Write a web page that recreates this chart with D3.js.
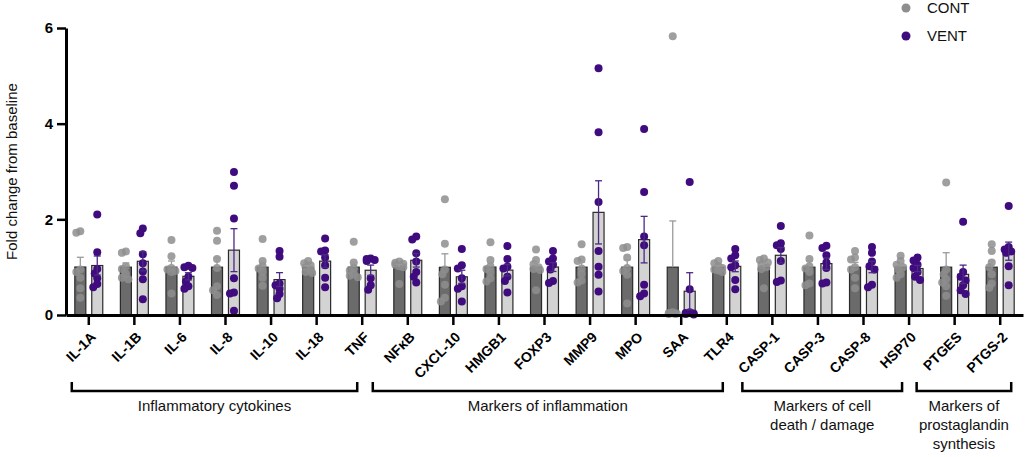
<!DOCTYPE html>
<html>
<head>
<meta charset="utf-8">
<script src="https://cdn.jsdelivr.net/npm/d3@7"></script>
<style>
  body { margin: 0; background: #fff; }
  svg { display: block; font-family: "Liberation Sans", Arial, sans-serif; }
</style>
</head>
<body>
<div id="chart"></div>
<script>
// genes on the x axis
var genes = ["IL-1A", "IL-1B", "IL-6", "IL-8", "IL-10", "IL-18", "TNF",
  "NFκB", "CXCL-10", "HMGB1", "FOXP3", "MMP9", "MPO", "SAA", "TLR4",
  "CASP-1", "CASP-3", "CASP-8", "HSP70", "PTGES", "PTGS-2"];

var seriesNames = ["CONT", "VENT"];

// individual animals, fold change from baseline
var contValues = [
  [1.72, 1.75, 0.90, 0.78, 0.56, 0.36, 0.95],
  [1.33, 1.30, 1.02, 0.96, 0.86, 0.78, 0.75],
  [1.57, 1.23, 0.98, 0.95, 0.92, 0.45, 0.90],
  [1.76, 1.55, 1.17, 0.60, 0.52, 0.42, 0.98],
  [1.59, 1.13, 1.02, 0.97, 0.90, 0.78, 0.61],
  [1.13, 1.08, 1.04, 1.00, 0.94, 0.90, 0.88],
  [1.53, 1.10, 0.98, 0.93, 0.85, 0.82, 0.79],
  [1.12, 1.09, 1.07, 1.05, 1.02, 1.00, 0.65],
  [2.42, 1.49, 0.95, 0.85, 0.63, 0.36, 0.28],
  [1.52, 1.15, 1.02, 0.96, 0.90, 0.77, 0.70],
  [1.37, 1.15, 1.06, 1.00, 0.96, 0.94, 0.52],
  [1.48, 1.16, 1.13, 0.97, 0.86, 0.72, 0.68],
  [1.42, 1.40, 1.20, 0.98, 0.92, 0.84, 0.24],
  [5.83, 0.06, 0.04, 0.03, 0.02, 0.02],
  [1.13, 1.08, 1.02, 0.98, 0.95, 0.93, 0.90],
  [1.18, 1.15, 1.10, 1.05, 1.00, 0.96, 0.56],
  [1.66, 1.17, 1.02, 0.97, 0.90, 0.66, 0.62],
  [1.34, 1.20, 1.16, 1.00, 0.95, 0.78, 0.56],
  [1.24, 1.13, 1.05, 1.00, 0.95, 0.85, 0.78],
  [2.77, 0.85, 0.75, 0.68, 0.60, 0.40, 0.95],
  [1.48, 1.34, 1.10, 1.00, 0.85, 0.66, 0.57]
];

var ventValues = [
  [2.10, 1.31, 0.96, 0.87, 0.77, 0.65, 0.58],
  [1.81, 1.71, 1.27, 1.08, 0.91, 0.75, 0.33],
  [1.03, 1.00, 0.98, 0.80, 0.70, 0.60, 0.55],
  [2.99, 2.70, 2.02, 0.77, 0.47, 0.45, 0.09],
  [1.34, 1.22, 0.66, 0.62, 0.55, 0.44, 0.35],
  [1.60, 1.35, 1.33, 1.20, 1.04, 0.78, 0.58],
  [1.18, 1.17, 1.15, 1.13, 0.77, 0.62, 0.53],
  [1.64, 1.58, 1.29, 1.12, 0.90, 0.80, 0.68],
  [1.38, 1.04, 0.97, 0.77, 0.60, 0.55, 0.28],
  [1.44, 1.17, 1.01, 0.97, 0.80, 0.71, 0.47],
  [1.34, 1.18, 1.12, 1.05, 0.95, 0.71, 0.67],
  [5.16, 3.82, 2.36, 1.34, 1.01, 0.84, 0.49],
  [3.89, 2.57, 1.64, 1.46, 0.63, 0.45, 0.39],
  [2.78, 0.54, 0.06, 0.04, 0.03, 0.02, 0.01],
  [1.38, 1.25, 1.18, 1.04, 1.00, 0.73, 0.54],
  [1.86, 1.50, 1.46, 1.38, 1.13, 0.72, 0.69],
  [1.45, 1.40, 1.25, 1.10, 0.98, 0.68, 0.66],
  [1.42, 1.30, 1.12, 1.02, 0.95, 0.63, 0.58],
  [1.20, 1.14, 1.05, 0.98, 0.90, 0.80, 0.73],
  [1.95, 0.90, 0.80, 0.72, 0.62, 0.52, 0.44],
  [2.28, 1.42, 1.37, 1.33, 1.30, 1.02, 0.62]
];

var yTicks = [0, 2, 4, 6];

// gene groups shown with brackets under the axis
var groupLabels = [
  ["Inflammatory cytokines"],
  ["Markers of inflammation"],
  ["Markers of cell", "death / damage"],
  ["Markers of", "prostaglandin", "synthesis"]
];
var groupFirst = ["IL-1A", "NFκB", "CASP-1", "PTGES"];
var groupLast = ["TNF", "TLR4", "HSP70", "PTGS-2"];

var colors = {
  CONT: { bar: "#6b6b6b", dot: "#8e8e8e", err: "#9a9a9a" },
  VENT: { bar: "#d3d3d3", dot: "#3f0b7e", err: "#4a2a82" }
};

var svgWidth = 1026, svgHeight = 457;
var margin = { top: 28, right: 3, bottom: 142, left: 66 };
var height = svgHeight - margin.top - margin.bottom;
var width = svgWidth - margin.left - margin.right;

var svg = d3.select("#chart")
  .append("svg")
  .attr("width", svgWidth)
  .attr("height", svgHeight);

var chart = svg.append("g")
  .attr("transform", `translate(${margin.left}, ${margin.top})`);

var x = d3.scaleBand()
  .domain(genes)
  .range([0, width]);

var x1 = d3.scaleBand()
  .domain(seriesNames)
  .range([0, x.bandwidth()])
  .paddingInner(0.35)
  .paddingOuter(0.52);

var y = d3.scaleLinear()
  .domain([0, 6])
  .range([height, 0]);

// summary stats per bar
var rows = [];
genes.forEach(function (g, i) {
  [contValues[i], ventValues[i]].forEach(function (vals, s) {
    var m = d3.mean(vals);
    var sem = d3.deviation(vals) / Math.sqrt(vals.length);
    rows.push({ gene: g, series: seriesNames[s], values: vals, mean: m, sem: sem });
  });
});

// spread overlapping dots sideways a little, like a scatter-dot plot
function spreadDots(row) {
  var r = 4;
  var placed = [];
  var cx = x(row.gene) + x1(row.series) + x1.bandwidth() / 2;
  var sorted = row.values.slice().sort(function (a, b) { return b - a; });
  sorted.forEach(function (v) {
    var py = y(v);
    var offsets = [0, -2.5, 2.5, -4, 4];
    var best = 0, bestScore = Infinity;
    offsets.forEach(function (o) {
      var score = 0;
      placed.forEach(function (p) {
        var d = Math.hypot(p.x - (cx + o), p.y - py);
        if (d < 1.3 * r) score += 1.3 * r - d;
      });
      if (score < bestScore - 0.3) { bestScore = score; best = o; }
    });
    placed.push({ x: cx + best, y: py, series: row.series });
  });
  return placed;
}

// bars
chart.append("g")
  .selectAll("rect")
  .data(rows)
  .enter().append("rect")
  .attr("x", function (d) { return x(d.gene) + x1(d.series); })
  .attr("y", function (d) { return y(d.mean); })
  .attr("width", x1.bandwidth())
  .attr("height", function (d) { return y(0) - y(d.mean); })
  .attr("fill", function (d) { return colors[d.series].bar; })
  .attr("stroke", "#2a2a2a")
  .attr("stroke-width", 1.2);

// dots
var dots = [];
rows.forEach(function (row) { dots = dots.concat(spreadDots(row)); });
chart.append("g")
  .selectAll("circle")
  .data(dots)
  .enter().append("circle")
  .attr("cx", function (d) { return d.x; })
  .attr("cy", function (d) { return d.y; })
  .attr("r", 4)
  .attr("fill", function (d) { return colors[d.series].dot; })
  .attr("fill-opacity", function (d) { return d.series === "CONT" ? 0.85 : 1; });

// error bars (mean ± SEM, CONT only upward)
var err = chart.append("g")
  .selectAll("g")
  .data(rows)
  .enter().append("g")
  .attr("stroke", function (d) { return colors[d.series].err; })
  .attr("stroke-width", 1.3);

err.append("line")
  .attr("x1", function (d) { return x(d.gene) + x1(d.series) + x1.bandwidth() / 2; })
  .attr("x2", function (d) { return x(d.gene) + x1(d.series) + x1.bandwidth() / 2; })
  .attr("y1", function (d) { return y(d.series === "CONT" ? d.mean : Math.max(0, d.mean - d.sem)); })
  .attr("y2", function (d) { return y(d.mean + d.sem); });

err.append("line")
  .attr("x1", function (d) { return x(d.gene) + x1(d.series) + x1.bandwidth() / 2 - 3.5; })
  .attr("x2", function (d) { return x(d.gene) + x1(d.series) + x1.bandwidth() / 2 + 3.5; })
  .attr("y1", function (d) { return y(d.mean + d.sem); })
  .attr("y2", function (d) { return y(d.mean + d.sem); });

err.filter(function (d) { return d.series === "VENT" && d.mean - d.sem > 0; })
  .append("line")
  .attr("x1", function (d) { return x(d.gene) + x1(d.series) + x1.bandwidth() / 2 - 3.5; })
  .attr("x2", function (d) { return x(d.gene) + x1(d.series) + x1.bandwidth() / 2 + 3.5; })
  .attr("y1", function (d) { return y(d.mean - d.sem); })
  .attr("y2", function (d) { return y(d.mean - d.sem); });

// Y axis
var yAxis = chart.append("g")
  .attr("class", "y-axis")
  .call(d3.axisLeft(y).tickValues(yTicks).tickFormat(d3.format("d"))
    .tickSize(9).tickSizeOuter(0).tickPadding(4));
yAxis.select(".domain").attr("stroke-width", 3).attr("stroke", "#000");
yAxis.selectAll(".tick line").attr("stroke-width", 2.5).attr("stroke", "#000");
yAxis.selectAll(".tick text")
  .attr("font-size", 15).attr("font-weight", "bold").attr("fill", "#000")
  .attr("font-family", "Liberation Sans, Arial, sans-serif");

// X axis
var xAxis = chart.append("g")
  .attr("class", "x-axis")
  .attr("transform", `translate(0, ${height})`)
  .call(d3.axisBottom(x).tickSize(10).tickSizeOuter(0).tickPadding(2));
xAxis.select(".domain").attr("stroke-width", 3).attr("stroke", "#000");
xAxis.selectAll(".tick line").attr("stroke-width", 2.5).attr("stroke", "#000");
xAxis.selectAll(".tick text")
  .attr("font-size", 14).attr("font-weight", "bold").attr("fill", "#000")
  .attr("font-family", "Liberation Sans, Arial, sans-serif")
  .attr("text-anchor", "end")
  .attr("transform", "translate(-4, 11) rotate(-45)")
  .attr("dy", "0.35em")
  .attr("dx", "0");

// y label
svg.append("text")
  .attr("transform", `translate(17, ${margin.top + height / 2}) rotate(-90)`)
  .attr("text-anchor", "middle")
  .attr("font-size", 15)
  .attr("fill", "#111")
  .text("Fold change from baseline");

// group brackets
var bracketInset = [[-17, -5], [-35, -4], [-30, -7], [-38, 11]];
var bracketY = 391 - margin.top;
groupLabels.forEach(function (lines, i) {
  var x0 = x(groupFirst[i]) + x.bandwidth() / 2 + bracketInset[i][0];
  var x2 = x(groupLast[i]) + x.bandwidth() / 2 + bracketInset[i][1];
  chart.append("path")
    .attr("d", `M${x0},${bracketY - 9}V${bracketY}H${x2}V${bracketY - 9}`)
    .attr("fill", "none")
    .attr("stroke", "#000")
    .attr("stroke-width", 2.5);
  var t = chart.append("text")
    .attr("text-anchor", "middle")
    .attr("font-size", 15)
    .attr("fill", "#111");
  lines.forEach(function (line, j) {
    t.append("tspan")
      .attr("x", (x0 + x2) / 2)
      .attr("y", 411 - margin.top + j * 19)
      .text(line);
  });
});

// legend
var legend = svg.append("g")
  .selectAll("g")
  .data(seriesNames)
  .enter().append("g")
  .attr("transform", function (d, i) { return `translate(906, ${8 + i * 28})`; });
legend.append("circle")
  .attr("r", 4.5)
  .attr("fill", function (d) { return colors[d].dot; });
legend.append("text")
  .attr("x", 21)
  .attr("dy", "0.35em")
  .attr("font-size", 15)
  .attr("fill", "#111")
  .text(function (d) { return d; });
</script>
</body>
</html>
